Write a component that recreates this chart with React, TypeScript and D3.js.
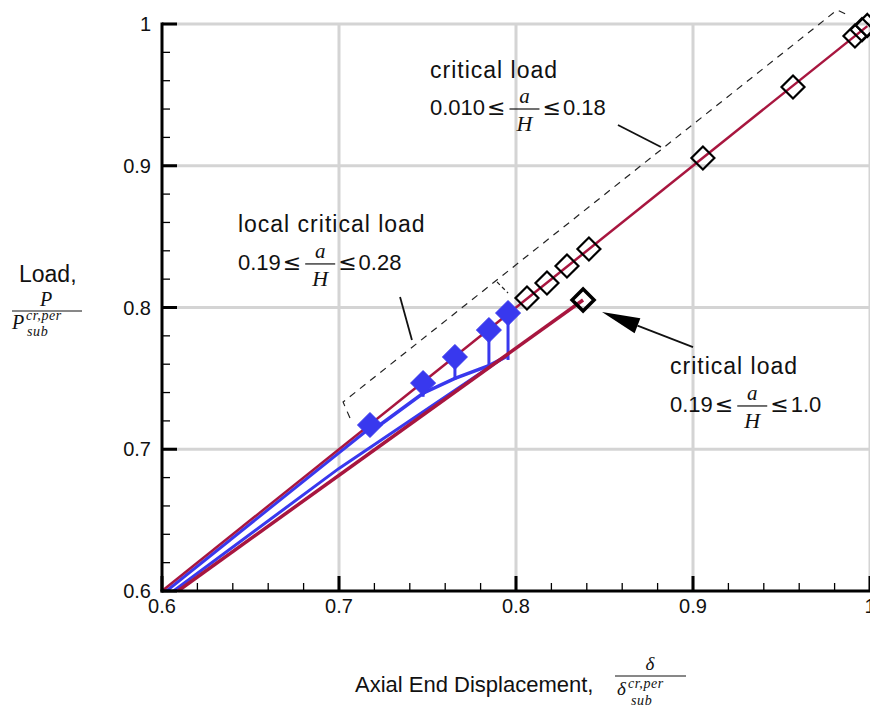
import React from 'react';
import * as d3 from 'd3';

const W = 870;
const H = 711;

// axis domains and ticks
const xDomain = [0.6, 1.0];
const yDomain = [0.6, 1.0];
const xMajorTicks = [0.6, 0.7, 0.8, 0.9, 1.0];
const xTickLabels = ['0.6', '0.7', '0.8', '0.9', '1'];
const yMajorTicks = [0.6, 0.7, 0.8, 0.9, 1.0];
const yTickLabels = ['0.6', '0.7', '0.8', '0.9', '1'];
const gridValues = [0.7, 0.8, 0.9, 1.0];

// critical load, 0.010 <= a/H <= 0.18 (upper curve)
const upperLineX = [0.6, 0.9985];
const upperLineY = [0.6, 0.9985];
const upperDiamondX = [0.8062, 0.8175, 0.8288, 0.8412, 0.9056, 0.9565, 0.9915, 0.9955, 0.9985];
const upperDiamondY = [0.8067, 0.8173, 0.8293, 0.8413, 0.9055, 0.9556, 0.9915, 0.996, 0.999];

// critical load, 0.19 <= a/H <= 1.0 (lower curve)
const lowerLineX = [0.609, 0.8379];
const lowerLineY = [0.6, 0.8053];
const lowerDiamondX = [0.8379];
const lowerDiamondY = [0.8053];

// local critical load, 0.19 <= a/H <= 0.28 (blue)
const localX = [0.7175, 0.7475, 0.7655, 0.7847, 0.7955];
const localY = [0.7171, 0.7467, 0.7651, 0.7841, 0.7961];
const stemBottomY = [0.737, 0.749, 0.757, 0.763];
const blueUpperX = [0.6025, 0.7175];
const blueUpperY = [0.6, 0.715];
const blueTrunkX = [0.7175, 0.7475, 0.7655, 0.7847, 0.7955];
const blueTrunkY = [0.712, 0.7395, 0.75, 0.759, 0.766];
const blueLowerX = [0.6065, 0.7, 0.7955];
const blueLowerY = [0.6, 0.6865, 0.7668];

// annotation geometry (data coordinates)
const dashedMain = [[0.7062, 0.722], [0.7023, 0.7333], [0.9814, 1.0099], [0.9876, 1.0063]];
const dashedSep = [[0.7893, 0.818], [0.7955, 0.8102]];
const leaderCritical = [[0.8576, 0.9287], [0.8819, 0.9132]];
const leaderLocal = [[0.7345, 0.8074], [0.7412, 0.7771]];
const arrowLine = [[0.9, 0.7721], [0.8486, 0.7968]];

const SANS = "'Liberation Sans', Arial, Helvetica, sans-serif";
const SERIF = "'Liberation Serif', 'DejaVu Serif', serif";
const SYM = "'DejaVu Sans', sans-serif";

const RED = '#a8163f';
const BLUE = '#3838ee';

let ctx: CanvasRenderingContext2D | null = null;
function measure(text: string, font: string): number {
  if (!ctx) ctx = document.createElement('canvas').getContext('2d');
  if (!ctx) return text.length * 10;
  ctx.font = font;
  return ctx.measureText(text).width;
}

function InlineRange({ x, y, left, right }: { x: number; y: number; left: string; right: string }) {
  const numSize = 22;
  const symSize = 22;
  const wl = measure(left, `${numSize}px ${SANS}`);
  const ws = measure('≤', `${symSize}px ${SYM}`);
  const fracW = 30;
  const x1 = x + wl + 2;
  const xf = x1 + ws + 4;
  const x2 = xf + fracW + 3;
  const xr = x2 + ws + 2;
  const barY = y - 6;
  return (
    <g>
      <text x={x} y={y} fontFamily={SANS} fontSize={numSize} fill="#111">{left}</text>
      <text x={x1} y={y} fontFamily={SYM} fontSize={symSize} fill="#111">≤</text>
      <text x={xf + fracW / 2} y={barY - 6} textAnchor="middle" fontFamily={SERIF} fontStyle="italic" fontSize={21} fill="#111">a</text>
      <line x1={xf} x2={xf + fracW} y1={barY} y2={barY} stroke="#111" strokeWidth={1.2} />
      <text x={xf + fracW / 2} y={barY + 22} textAnchor="middle" fontFamily={SERIF} fontStyle="italic" fontSize={22} fill="#111">H</text>
      <text x={x2} y={y} fontFamily={SYM} fontSize={symSize} fill="#111">≤</text>
      <text x={xr} y={y} fontFamily={SANS} fontSize={numSize} fill="#111">{right}</text>
    </g>
  );
}

function Diamond({ cx, cy, r, fill, stroke, sw }: { cx: number; cy: number; r: number; fill: string; stroke: string; sw: number }) {
  const d = `M${cx},${cy - r}L${cx + r},${cy}L${cx},${cy + r}L${cx - r},${cy}Z`;
  return <path d={d} fill={fill} stroke={stroke} strokeWidth={sw} strokeLinejoin="miter" />;
}

export default function App() {
  const x = d3.scaleLinear().domain(xDomain).range([162, 870]);
  const y = d3.scaleLinear().domain(yDomain).range([591, 24]);
  const line = d3.line<[number, number]>().x((d) => x(d[0])).y((d) => y(d[1]));
  const zip = (a: number[], b: number[]) => a.map((v, i) => [v, b[i]] as [number, number]);

  const minorX = d3.range(0.62, 1.0, 0.02).filter((v) => Math.abs(Math.round(v * 10) - v * 10) > 1e-6);
  const minorY = d3.range(0.62, 1.0, 0.02).filter((v) => Math.abs(Math.round(v * 10) - v * 10) > 1e-6);

  const [ax0, ay0] = arrowLine[1];
  const [ax1, ay1] = arrowLine[0];
  const tipX = x(ax0), tipY = y(ay0);
  const tailX = x(ax1), tailY = y(ay1);
  const ang = Math.atan2(tailY - tipY, tailX - tipX);
  const headLen = 38, headHalf = 8;
  const bx = tipX + headLen * Math.cos(ang), by = tipY + headLen * Math.sin(ang);
  const head = `M${tipX},${tipY}L${bx - headHalf * Math.sin(ang)},${by + headHalf * Math.cos(ang)}L${bx + headHalf * Math.sin(ang)},${by - headHalf * Math.cos(ang)}Z`;

  const wordFont = { fontFamily: SANS, fontSize: 23, letterSpacing: 1, fill: '#111' };

  return (
    <svg width={W} height={H} style={{ position: 'absolute', left: 0, top: 0, background: '#fff' }}>
      <rect x={0} y={0} width={W} height={H} fill="#fff" />
      {/* grid */}
      {gridValues.map((v) => (
        <line key={'gx' + v} x1={x(v)} x2={x(v)} y1={y(1.0)} y2={y(0.6)} stroke="#d4d4d4" strokeWidth={3} />
      ))}
      {gridValues.map((v) => (
        <line key={'gy' + v} x1={x(0.6)} x2={x(1.0)} y1={y(v)} y2={y(v)} stroke="#d4d4d4" strokeWidth={3} />
      ))}

      {/* blue local-buckling paths */}
      <path d={line(zip(blueUpperX, blueUpperY)) || ''} fill="none" stroke={BLUE} strokeWidth={3} />
      <path d={line(zip(blueLowerX, blueLowerY)) || ''} fill="none" stroke={BLUE} strokeWidth={3} />
      <path d={line(zip(blueTrunkX, blueTrunkY)) || ''} fill="none" stroke={BLUE} strokeWidth={3.5} />
      {localX.slice(1).map((v, i) => (
        <line key={'stem' + i} x1={x(v)} x2={x(v)} y1={y(localY[i + 1])} y2={y(stemBottomY[i])} stroke={BLUE} strokeWidth={3} />
      ))}

      {/* red curves */}
      <path d={line(zip(upperLineX, upperLineY)) || ''} fill="none" stroke={RED} strokeWidth={2.5} />
      <path d={line(zip(lowerLineX, lowerLineY)) || ''} fill="none" stroke={RED} strokeWidth={3.5} />

      {/* markers */}
      {localX.map((v, i) => (
        <Diamond key={'b' + i} cx={x(v)} cy={y(localY[i])} r={12.5} fill={BLUE} stroke={BLUE} sw={1} />
      ))}
      {upperDiamondX.map((v, i) => (
        <Diamond key={'u' + i} cx={x(v)} cy={y(upperDiamondY[i])} r={11.5} fill="none" stroke="#000" sw={2.2} />
      ))}
      {lowerDiamondX.map((v, i) => (
        <Diamond key={'l' + i} cx={x(v)} cy={y(lowerDiamondY[i])} r={11} fill="none" stroke="#000" sw={3.5} />
      ))}

      {/* annotations */}
      <path d={line(dashedMain as [number, number][]) || ''} fill="none" stroke="#222" strokeWidth={1.2} strokeDasharray="7,6" />
      <path d={line(dashedSep as [number, number][]) || ''} fill="none" stroke="#222" strokeWidth={1.2} strokeDasharray="4,3" />
      <path d={line(leaderCritical as [number, number][]) || ''} fill="none" stroke="#111" strokeWidth={1.8} />
      <path d={line(leaderLocal as [number, number][]) || ''} fill="none" stroke="#111" strokeWidth={1.8} />
      <line x1={tailX} y1={tailY} x2={bx} y2={by} stroke="#111" strokeWidth={1.8} />
      <path d={head} fill="#000" />

      <text x={x(0.7514)} y={y(0.9619)} {...wordFont}>critical load</text>
      <InlineRange x={x(0.7514)} y={y(0.9358)} left="0.010" right="0.18" />
      <text x={x(0.6429)} y={y(0.8533)} {...wordFont}>local critical load</text>
      <InlineRange x={x(0.6429)} y={y(0.8265)} left="0.19" right="0.28" />
      <text x={x(0.887)} y={y(0.7531)} {...wordFont}>critical load</text>
      <InlineRange x={x(0.887)} y={y(0.7263)} left="0.19" right="1.0" />

      {/* axes */}
      <line x1={x(0.6)} x2={x(0.6)} y1={y(1.0) - 1.5} y2={y(0.6) + 1.5} stroke="#000" strokeWidth={3} />
      <line x1={x(0.6) - 1.5} x2={x(1.0)} y1={y(0.6)} y2={y(0.6)} stroke="#000" strokeWidth={3} />
      {xMajorTicks.map((v) => (
        <line key={'xt' + v} x1={x(v)} x2={x(v)} y1={y(0.6)} y2={y(0.6) - 15} stroke="#000" strokeWidth={3} />
      ))}
      {minorX.map((v) => (
        <line key={'xm' + v} x1={x(v)} x2={x(v)} y1={y(0.6)} y2={y(0.6) - 8} stroke="#000" strokeWidth={1.3} />
      ))}
      {yMajorTicks.map((v) => (
        <line key={'yt' + v} x1={x(0.6)} x2={x(0.6) + 15} y1={y(v)} y2={y(v)} stroke="#000" strokeWidth={3} />
      ))}
      {minorY.map((v) => (
        <line key={'ym' + v} x1={x(0.6)} x2={x(0.6) + 8} y1={y(v)} y2={y(v)} stroke="#000" strokeWidth={1.3} />
      ))}
      {xMajorTicks.map((v, i) => (
        <text key={'xl' + v} x={x(v)} y={y(0.6) + 22} textAnchor="middle" fontFamily={SANS} fontSize={20} fill="#111">{xTickLabels[i]}</text>
      ))}
      {yMajorTicks.map((v, i) => (
        <text key={'yl' + v} x={x(0.6) - 11} y={y(v) + 7} textAnchor="end" fontFamily={SANS} fontSize={20} fill="#111">{yTickLabels[i]}</text>
      ))}

      {/* y axis title */}
      <text x={19} y={282} fontFamily={SANS} fontSize={23} fill="#111">Load,</text>
      <text x={46} y={306} textAnchor="middle" fontFamily={SERIF} fontStyle="italic" fontSize={20} fill="#111">P</text>
      <line x1={12} x2={82} y1={311} y2={311} stroke="#111" strokeWidth={1} />
      <text x={12} y={329} fontFamily={SERIF} fontStyle="italic" fontSize={20} fill="#111">P</text>
      <text x={26} y={320} fontFamily={SERIF} fontStyle="italic" fontSize={14} letterSpacing={0.6} fill="#111">cr,per</text>
      <text x={27} y={336} fontFamily={SERIF} fontStyle="italic" fontSize={14} letterSpacing={0.6} fill="#111">sub</text>

      {/* x axis title */}
      <text x={355} y={692} fontFamily={SANS} fontSize={22} fill="#111">Axial End Displacement,</text>
      <text x={650} y={670} textAnchor="middle" fontFamily={SERIF} fontStyle="italic" fontSize={19} fill="#111">δ</text>
      <line x1={615} x2={686} y1={676} y2={676} stroke="#111" strokeWidth={1} />
      <text x={617} y={695} fontFamily={SERIF} fontStyle="italic" fontSize={19} fill="#111">δ</text>
      <text x={628} y={688} fontFamily={SERIF} fontStyle="italic" fontSize={14} letterSpacing={0.6} fill="#111">cr,per</text>
      <text x={631} y={705} fontFamily={SERIF} fontStyle="italic" fontSize={14} letterSpacing={0.6} fill="#111">sub</text>
    </svg>
  );
}
